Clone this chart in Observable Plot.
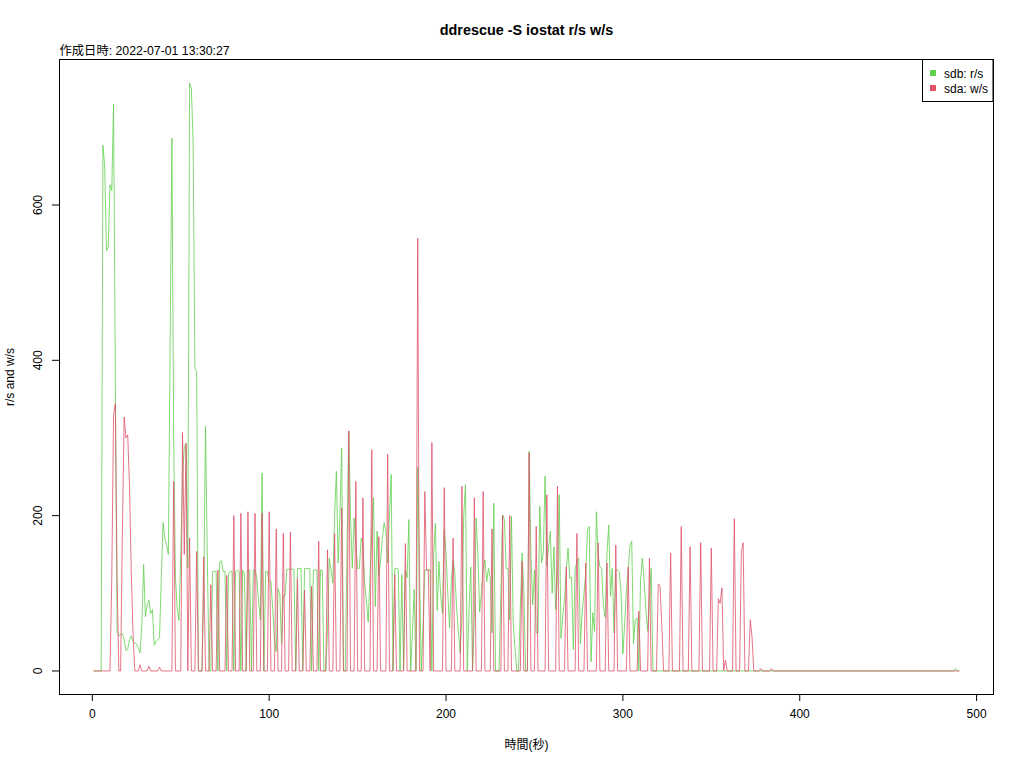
<!DOCTYPE html>
<html><head><meta charset="utf-8">
<script src="https://cdn.jsdelivr.net/npm/d3@7"></script>
<script src="https://cdn.jsdelivr.net/npm/@observablehq/plot@0.6"></script>
<style>body{margin:0;background:#fff;} svg{display:block}</style>
</head><body><div id="chart"></div>
<script>
const titleText = "ddrescue -S iostat r/s w/s";
const subtitleText = "作成日時: 2022-07-01 13:30:27";
const xLabel = "時間(秒)";
const yLabel = "r/s and w/s";
const seriesNames = ["sdb: r/s", "sda: w/s"];
const seriesColors = ["#61D04F", "#DF536B"];
const xTicks = [0, 100, 200, 300, 400, 500];
const yTicks = [0, 200, 400, 600];

// sdb r/s : [second, value]
const sdbPoints = [[1,0],[5,0],[6,677],[7,650],[8,541],[9,546],[10,626],[11,619],[12,730],[13,380],[14,50],[15,45],[16,47],[17,48],[18,40],[19,26],[20,28],[21,40],[22,45],[23,38],[24,36],[25,35],[26,30],[27,23],[28,60],[29,137],[30,70],[31,85],[32,91],[33,74],[34,79],[35,33],[36,38],[37,40],[38,43],[39,120],[40,191],[41,170],[42,162],[43,150],[44,420],[45,686],[46,300],[47,120],[48,80],[49,65],[50,150],[51,250],[52,288],[53,293],[54,133],[55,757],[56,750],[57,680],[58,390],[59,385],[60,0],[62,0],[63,100],[64,315],[65,150],[66,0],[67,0],[68,128],[69,128],[70,128],[71,0],[72,140],[73,142],[74,128],[75,128],[76,0],[77,125],[78,128],[79,128],[80,0],[81,128],[82,130],[83,128],[84,0],[85,130],[86,125],[87,0],[88,130],[89,130],[90,0],[91,130],[92,130],[93,120],[94,90],[95,66],[96,255],[97,0],[98,128],[99,128],[100,115],[101,115],[102,80],[103,40],[104,25],[105,106],[106,100],[107,35],[108,97],[109,97],[110,131],[111,131],[112,131],[113,131],[114,131],[115,0],[116,132],[117,132],[118,132],[119,0],[120,132],[121,132],[122,132],[123,132],[124,0],[125,130],[126,130],[127,130],[128,0],[129,130],[130,130],[131,0],[132,0],[133,52],[134,145],[135,130],[136,113],[137,200],[138,257],[139,139],[140,200],[141,287],[142,0],[143,0],[144,150],[145,309],[146,200],[147,132],[148,197],[149,160],[150,132],[151,132],[152,171],[153,164],[154,113],[155,90],[156,63],[157,122],[158,180],[159,223],[160,83],[161,180],[162,122],[163,143],[164,170],[165,191],[166,180],[167,139],[168,200],[169,253],[170,0],[171,132],[172,132],[173,131],[174,0],[175,124],[176,0],[177,130],[178,120],[179,195],[180,0],[181,50],[182,105],[183,0],[184,262],[185,130],[186,0],[187,60],[188,130],[189,130],[190,130],[191,130],[192,0],[193,150],[194,190],[195,78],[196,141],[197,96],[198,74],[199,182],[200,152],[201,100],[202,55],[203,117],[204,143],[205,126],[206,80],[207,50],[208,23],[209,72],[210,200],[211,240],[212,0],[213,80],[214,134],[215,0],[216,68],[217,197],[218,150],[219,76],[220,100],[221,132],[222,143],[223,115],[224,132],[225,120],[226,49],[227,216],[228,0],[230,0],[231,100],[232,201],[233,195],[234,132],[235,132],[236,66],[237,199],[238,61],[239,30],[240,0],[241,0],[242,80],[243,152],[244,104],[245,0],[246,0],[247,283],[248,150],[249,85],[250,130],[251,49],[252,49],[253,212],[254,139],[255,152],[256,251],[257,135],[258,160],[259,180],[260,100],[261,160],[262,79],[263,120],[264,227],[265,42],[266,70],[267,92],[268,130],[269,158],[270,119],[271,121],[272,27],[273,132],[274,140],[275,145],[276,35],[277,77],[278,100],[279,126],[280,182],[281,186],[282,12],[283,75],[284,51],[285,205],[286,150],[287,134],[288,132],[289,83],[290,69],[291,150],[292,188],[293,96],[294,132],[295,49],[296,130],[297,130],[298,128],[299,100],[300,22],[301,60],[302,104],[303,130],[304,162],[305,167],[306,35],[307,66],[308,68],[309,0],[310,117],[311,145],[312,117],[313,79],[314,51],[315,90],[316,132],[317,0],[487,0],[488,3],[489,0],[490,0]];

// sda w/s : [second, value]
const sdaPoints = [[1,0],[10,0],[11,120],[12,329],[13,344],[14,120],[15,0],[16,0],[17,180],[18,327],[19,300],[20,304],[21,240],[22,130],[23,50],[24,0],[26,0],[27,8],[28,0],[31,0],[32,6],[33,0],[37,0],[38,5],[39,0],[45,0],[46,244],[47,0],[50,0],[51,307],[52,150],[53,293],[54,0],[55,171],[56,0],[58,0],[59,154],[60,0],[62,0],[63,147],[64,0],[66,0],[67,111],[68,0],[70,0],[71,130],[72,0],[75,0],[76,123],[77,0],[79,0],[80,200],[81,0],[83,0],[84,203],[85,0],[87,0],[88,205],[89,0],[91,0],[92,203],[93,0],[95,0],[96,203],[97,0],[99,0],[100,205],[101,0],[103,0],[104,183],[105,0],[107,0],[108,177],[109,0],[111,0],[112,179],[113,0],[115,0],[116,119],[117,0],[119,0],[120,104],[121,0],[123,0],[124,109],[125,0],[127,0],[128,167],[129,0],[132,0],[133,156],[134,0],[136,0],[137,177],[138,0],[140,0],[141,210],[142,0],[144,0],[145,309],[146,0],[148,0],[149,244],[150,0],[152,0],[153,223],[154,0],[157,0],[158,285],[159,0],[161,0],[162,173],[163,0],[166,0],[167,279],[168,0],[170,0],[171,124],[172,0],[176,0],[177,164],[178,0],[183,0],[184,557],[185,0],[187,0],[188,231],[189,130],[190,130],[191,0],[192,294],[193,0],[198,0],[199,236],[200,0],[203,0],[204,171],[205,0],[208,0],[209,238],[210,0],[215,0],[216,223],[217,0],[220,0],[221,231],[222,0],[225,0],[226,183],[227,0],[231,0],[232,200],[233,0],[235,0],[236,200],[237,0],[242,0],[243,141],[244,0],[246,0],[247,281],[248,0],[250,0],[251,186],[252,0],[256,0],[257,227],[258,0],[262,0],[263,238],[264,0],[267,0],[268,134],[269,0],[273,0],[274,177],[275,0],[278,0],[279,139],[280,0],[285,0],[286,165],[287,0],[290,0],[291,139],[292,0],[295,0],[296,162],[297,0],[302,0],[303,134],[304,0],[308,0],[309,77],[310,0],[314,0],[315,145],[316,0],[319,0],[320,112],[321,110],[322,60],[323,0],[326,0],[327,152],[328,0],[332,0],[333,186],[334,0],[337,0],[338,160],[339,0],[343,0],[344,165],[345,0],[349,0],[350,158],[351,0],[353,0],[354,93],[355,87],[356,107],[357,0],[358,14],[359,0],[362,0],[363,196],[364,0],[366,0],[367,154],[368,165],[369,0],[371,0],[372,66],[373,44],[374,0],[377,0],[378,3],[379,0],[383,0],[384,3],[385,0],[490,0]];

const sdb = sdbPoints.map(([t, v]) => ({t, v}));
const sda = sdaPoints.map(([t, v]) => ({t, v}));

const font = "'Liberation Sans', Arial, 'Noto Sans CJK JP', sans-serif";
const chart = Plot.plot({
  width: 1024, height: 768,
  marginLeft: 59, marginRight: 31, marginTop: 59, marginBottom: 74,
  style: {fontFamily: font, fontSize: "12px", background: "#fff", color: "#000"},
  x: {domain: [-18.56, 509.56]},
  y: {domain: [-30.3, 787.3]},
  marks: [
    Plot.line(sdb, {x: "t", y: "v", stroke: seriesColors[0], strokeWidth: 1, strokeOpacity: 0.8}),
    Plot.line(sda, {x: "t", y: "v", stroke: seriesColors[1], strokeWidth: 1, strokeOpacity: 0.8}),
    Plot.frame({stroke: "#000"}),
    Plot.axisX({ticks: xTicks, tickSize: 7, tickPadding: 8, fontSize: 12, label: null}),
    Plot.axisY({ticks: yTicks, tickSize: 7, tickFormat: () => "", label: null}),
    Plot.text(yTicks, {y: d => d, text: d => String(d), frameAnchor: "left", dx: -21, rotate: -90, textAnchor: "middle", lineAnchor: "middle", fontSize: 12}),
    Plot.text([titleText], {text: d => d, frameAnchor: "top", dy: -29, fontWeight: "bold", fontSize: 14.4, lineAnchor: "middle"}),
    Plot.text([subtitleText], {text: d => d, frameAnchor: "top-left", dy: -8, textAnchor: "start", lineAnchor: "middle", fontSize: 12.3}),
    Plot.text([xLabel], {text: d => d, frameAnchor: "bottom", dy: 51, lineAnchor: "middle", fontSize: 12}),
    Plot.text([yLabel], {text: d => d, frameAnchor: "left", dx: -49, rotate: -90, textAnchor: "middle", lineAnchor: "middle", fontSize: 12})
  ]
});

const svg = d3.select(chart);
const lg = svg.append("g").attr("font-family", font).attr("font-size", 12).attr("text-anchor", "start");
lg.append("rect").attr("x", 922.5).attr("y", 59.5).attr("width", 70.5).attr("height", 42)
  .attr("fill", "#fff").attr("stroke", "#000");
seriesNames.forEach((name, i) => {
  lg.append("rect").attr("x", 930).attr("y", 70 + i * 15).attr("width", 6).attr("height", 6).attr("fill", seriesColors[i]);
  lg.append("text").attr("x", 944).attr("y", 77.5 + i * 15).attr("text-anchor", "start").text(name);
});
document.getElementById("chart").appendChild(chart);
</script>
</body></html>
